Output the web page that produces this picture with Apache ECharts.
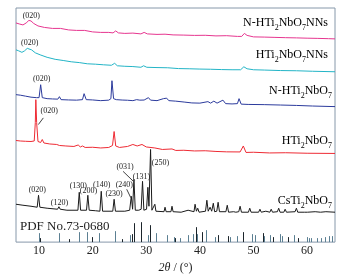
<!DOCTYPE html>
<html>
<head>
<meta charset="utf-8">
<script src="https://cdn.jsdelivr.net/npm/echarts@6/dist/echarts.min.js"></script>
<style>
  html, body { margin: 0; padding: 0; background: #fff; }
  #main { width: 345px; height: 279px; }
</style>
</head>
<body>
<div id="main"></div>
<script>
// tick labels on 2theta axis
var xTicks = [10, 20, 30, 40, 50, 60];

// XRD patterns, [2theta, intensity (stacked, a.u.)]
var nHtiNNs = [[5.7,220],[6.3,219],[7.0,218],[7.6,220],[8.1,222.5],[8.5,222],[9.0,219.5],[9.8,217],[11,215.5],[12.5,214.5],[14,214.5],[15.5,213],[17,212.5],[18.5,212.5],[20,211],[21.5,210.5],[23,210.5],[23.8,210],[24.3,212],[24.8,210],[26,209.5],[27.5,209.8],[29,209],[29.6,210.5],[30.2,209],[32,208.5],[33.5,208.7],[35,208],[37,207.8],[39,207.5],[41,207.6],[43,207],[45,207.2],[47,206.5],[47.8,206.5],[48.3,209.5],[48.8,207.5],[50,206],[52,205.8],[54,205.5],[56,205.2],[58,205],[60,204.7],[62,204.5],[64,204.2],[65.2,204]];
var htiNNs = [[5.7,193],[6.2,192],[6.8,190.5],[7.3,192],[7.8,194.5],[8.1,195],[8.6,193],[9.3,190],[10.2,188],[11.5,185.5],[13,183.5],[14.5,182.3],[16,181],[17.5,180.2],[19,179],[20.5,178.6],[22,178],[23.5,177.5],[24.1,179.5],[24.6,177],[26,176.5],[27.5,176.2],[29,175.5],[29.5,177],[30.1,175.5],[32,175.2],[34,175],[36,174.2],[38,174],[40,173.7],[42,173.5],[44,173.2],[46,173],[47.6,173],[48.2,176],[48.8,174],[50,173],[52,172.7],[55,172.2],[58,172],[61,171.5],[65.2,171]];
var nHti = [[5.7,148],[6.5,147.5],[7.5,146.5],[8.5,145.5],[9.5,145],[10.0,145],[10.3,158],[10.6,145],[11.5,144],[12.5,143.7],[13.5,143.5],[13.8,146],[14.1,143],[15.5,142.7],[17,142.5],[18.1,143],[18.4,149],[18.8,143],[20,142.7],[21.5,142],[23,142.5],[23.4,144],[23.6,162],[23.9,144],[24.4,143],[25.5,142.6],[26.5,142.4],[27.5,142],[28.2,143],[28.5,145],[28.8,142.5],[29.6,142.6],[30.4,145],[30.8,142.5],[32,142],[33.2,144],[33.5,142.5],[33.8,144.5],[34.2,142],[35.5,141.5],[37.2,140.5],[38.5,139.7],[40,139.5],[41.5,141],[42,139.5],[42.6,141.5],[43.2,139.5],[44.3,142.5],[44.8,139],[46,138.7],[47,139],[47.3,144],[47.7,138.5],[49,138.2],[52,138],[55,137.6],[58,137.2],[61,136.6],[65.2,136]];
var hti = [[5.7,102],[6.5,101.5],[7.5,101.2],[8.5,101],[9.1,101.5],[9.3,120],[9.4,143],[9.55,120],[9.8,101],[10.3,100],[10.6,103],[10.9,99.5],[12,98.5],[13.3,98],[13.8,97],[15,96.5],[16.5,96],[17.3,97.5],[17.7,95.5],[18.1,96.5],[18.6,95],[20,95.2],[21.5,94.5],[23,95],[23.7,97],[24,111],[24.3,96.5],[25,95],[26.5,96],[27.5,98],[28.3,96.5],[29.2,98],[30,95.5],[31.6,94.5],[33,93],[34.8,93.5],[35.5,92],[37,92.2],[39,91.5],[41,91.7],[43,91],[45,90.6],[47.5,90.5],[48.1,96.5],[48.6,90],[50,90.2],[53,89.5],[56,89.7],[60,89.2],[65.2,89]];
var csti = [[5.7,38],[7,37],[8.5,36],[9.65,35],[9.9,47],[10.15,35],[11.5,34],[13.45,33],[13.7,35.5],[13.95,33],[15.2,32],[17.25,32],[17.5,50],[17.75,32],[18.85,32],[19.1,47],[19.35,32],[20.5,31.5],[21.35,31],[21.6,51],[21.85,31],[23.75,31],[24.0,43],[24.25,31],[26,31],[26.9,32],[27.2,46],[27.45,33],[27.7,63],[27.95,32],[28.6,32],[29.05,33],[29.3,61],[29.55,32],[30.05,33],[30.3,55],[30.5,36],[30.8,93],[31.05,32],[31.4,31],[31.6,38],[31.8,31],[33.3,30.5],[33.5,35],[33.7,30.5],[34.6,30.5],[34.8,36],[35.0,30.5],[36.5,30],[37.8,32],[38.1,30],[38.9,30.5],[39.1,38],[39.35,31],[39.6,34],[39.85,30],[41.05,31],[41.3,42],[41.55,31],[41.9,35],[42.2,31],[42.5,39],[42.75,30.5],[43.15,31],[43.4,40],[43.65,30.5],[44.85,30.5],[45.1,37],[45.35,30],[46.3,30.5],[46.5,32],[46.7,30],[47.25,30.5],[47.5,36],[47.75,30],[49.05,30],[49.3,34],[49.55,30],[50.95,30],[51.2,33],[51.45,30],[52.3,31],[53.05,30],[53.3,33],[53.55,30],[54.45,30.5],[54.7,34],[54.95,30],[55.65,30],[55.9,33],[56.15,30],[57.75,30.5],[58.0,34],[58.25,30],[59.55,30],[59.8,32],[60.05,30],[61.5,30.5],[62.5,30],[63.5,30.5],[65.2,30]];

// PDF No.73-0680 reference lines [2theta, relative height]
var pdfDark = [[10.2,4],[15.5,3],[19.8,5],[25.4,3],[27.3,8],[27.7,19],[29.1,20],[30.7,17],[35.3,4],[39.2,15],[40.3,10],[43.4,7],[45.3,6],[48.1,10],[51.7,9],[53.7,5],[56.5,5],[58.3,4]];
var pdfSlate = [[10.0,9],[13.7,9],[17.5,10],[19.0,10],[21.1,9],[24.2,11],[27.0,7],[30.4,7],[31.8,9],[33.8,7],[35.1,5],[36.3,4],[37.8,7],[38.8,8],[39.5,8],[41.2,12],[42.8,5],[45.6,5],[46.9,6],[49.7,8],[50.2,7],[51.9,6],[53.1,7],[55.0,8],[55.3,6],[57.6,7],[59.9,5],[60.3,4],[60.8,4],[61.9,4],[62.5,4],[63.4,5],[64.0,6],[64.6,6]];

// (hkl) labels for CsTi2NbO7 [text, 2theta, y]
var cstiHkl = [['(020)',9.68,52],['(120)',13.8,39],['(130)',17.33,56],['(200)',19.2,51],['(140)',21.7,57],['(230)',24.0,48],['(240)',25.9,57],['(031)',26.05,75],['(131)',29.1,65],['(250)',32.65,80]];
// (020) labels of the other samples
var topHkl = [['(020)',8.56,227],['(020)',8.25,200],['(020)',10.5,164],['(020)',11.9,131.5]];
// arrows [from, to]
var arrows = [[[10.8,124.7],[9.87,118]],[[25.67,71],[27.54,61.3]],[[26.35,53],[27.1,44.7]]];

var FONT = 'Liberation Serif';
var chart = echarts.init(document.getElementById('main'));

function lineSeries(name, data, color) {
  return {
    name: name, type: 'line', data: data, showSymbol: false, silent: true,
    lineStyle: { color: color, width: 1 }, animation: false
  };
}

function stickSeries(data, color) {
  return {
    type: 'custom', data: data, silent: true, animation: false,
    encode: { x: 0, y: 1 },
    renderItem: function (params, api) {
      var p0 = api.coord([api.value(0), 0]);
      var p1 = api.coord([api.value(0), api.value(1)]);
      return {
        type: 'line',
        shape: { x1: Math.round(p0[0]) + 0.5, y1: p0[1], x2: Math.round(p0[0]) + 0.5, y2: p1[1] },
        style: { stroke: color, lineWidth: 1 }
      };
    }
  };
}

function hklPoints(list) {
  return {
    symbol: 'circle', symbolSize: 0, silent: true,
    itemStyle: { color: 'transparent' },
    label: { show: true, position: 'inside', formatter: '{b}', fontSize: 8, color: '#222', fontFamily: FONT },
    data: list.map(function (d) { return { name: d[0], coord: [d[1], d[2]] }; })
  };
}

var subRich = {
  n: { fontSize: 12, fontFamily: FONT, color: '#222', lineHeight: 14, verticalAlign: 'bottom' },
  s: { fontSize: 8, fontFamily: FONT, color: '#222', lineHeight: 9, verticalAlign: 'bottom', padding: [0, 0, -3, 0] }
};
function nameText(txt, right, y) {
  return {
    type: 'text', right: 345 - right, top: y - 8, silent: true,
    style: { text: txt, rich: subRich, align: 'right' }
  };
}

var seriesList = [
  lineSeries('N-HTi2NbO7NNs', nHtiNNs, '#e6358f'),
  lineSeries('HTi2NbO7NNs', htiNNs, '#22b4c6'),
  lineSeries('N-HTi2NbO7', nHti, '#2b3a9c'),
  lineSeries('HTi2NbO7', hti, '#ee2a33'),
  lineSeries('CsTi2NbO7', csti, '#1a1a1a'),
  stickSeries(pdfSlate, '#5b7f92'),
  stickSeries(pdfDark, '#1c252b')
];
seriesList[4].markPoint = hklPoints(cstiHkl);
seriesList[0].markPoint = hklPoints(topHkl);
seriesList[4].markLine = {
  silent: true, symbol: ['none', 'arrow'], symbolSize: [0, 5],
  lineStyle: { color: '#111', width: 0.8, type: 'solid' },
  label: { show: false },
  data: arrows.map(function (a) { return [{ coord: a[0] }, { coord: a[1] }]; })
};

chart.setOption({
  animation: false,
  grid: { left: 16, right: 10, top: 8, bottom: 36, show: true, borderColor: '#8698aa', borderWidth: 1 },
  xAxis: {
    type: 'value', min: 5.7, max: 65.2,
    name: '{i|2θ} / (°)', nameLocation: 'middle', nameGap: 17,
    nameTextStyle: { fontSize: 12, fontFamily: FONT, color: '#222', rich: { i: { fontStyle: 'italic', fontSize: 12, fontFamily: FONT, color: '#222' } } },
    axisLine: { show: false }, axisTick: { show: false }, splitLine: { show: false },
    axisLabel: { customValues: xTicks, fontSize: 12, fontFamily: FONT, color: '#222', margin: 3 }
  },
  yAxis: {
    type: 'value', min: 0, max: 235,
    axisLine: { show: false }, axisTick: { show: false }, splitLine: { show: false }, axisLabel: { show: false }
  },
  series: seriesList,
  graphic: [
    nameText('{n|N-HTi}{s|2}{n|NbO}{s|7}{n|NNs}', 328, 25),
    nameText('{n|HTi}{s|2}{n|NbO}{s|7}{n|NNs}', 328, 57),
    nameText('{n|N-HTi}{s|2}{n|NbO}{s|7}', 332, 93),
    nameText('{n|HTi}{s|2}{n|NbO}{s|7}', 332, 143),
    nameText('{n|CsTi}{s|2}{n|NbO}{s|7}', 332, 203),
    { type: 'text', left: 20, top: 220, silent: true,
      style: { text: 'PDF No.73-0680', font: '13px "Liberation Serif"', fill: '#222' } }
  ]
});
</script>
</body>
</html>
